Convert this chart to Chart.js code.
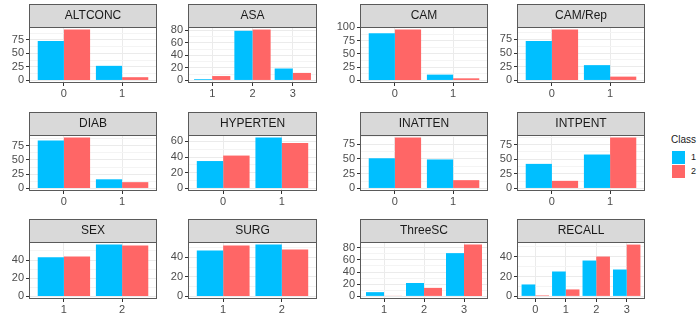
<!DOCTYPE html>
<html>
<head>
<meta charset="utf-8">
<script src="https://cdn.jsdelivr.net/npm/chart.js@4.4.0/dist/chart.umd.min.js"></script>
<style>
  body { margin:0; background:#fff; width:700px; height:323px; position:relative; overflow:hidden; font-family:"Liberation Sans", Arial, sans-serif; }
  canvas { position:absolute; }
  .lg { position:absolute; color:#1A1A1A; white-space:nowrap; }
  .sw { position:absolute; width:13px; height:13px; }
</style>
</head>
<body>
<div id="legend"></div>
<script>
// facet data
var facetNames = ['ALTCONC', 'ASA', 'CAM', 'CAM/Rep',
                  'DIAB', 'HYPERTEN', 'INATTEN', 'INTPENT',
                  'SEX', 'SURG', 'ThreeSC', 'RECALL'];
var facetCategories = [['0','1'], ['1','2','3'], ['0','1'], ['0','1'],
                       ['0','1'], ['0','1'], ['0','1'], ['0','1'],
                       ['1','2'], ['1','2'], ['1','2','3'], ['0','1','2','3']];
var class1Values = [[73,27], [2,79,19], [89,11], [72,28],
                    [84,16], [35,65], [51,49], [42,58],
                    [43,57], [47,53], [7,22,71], [12,25,36,27]];
var class2Values = [[94,6], [7,81,12], [96,4], [93,7],
                    [89,11], [42,58], [86,14], [13,87],
                    [44,56], [52,48], [1,14,85], [1,7,40,52]];
var yTickLabels = [[0,25,50,75], [0,20,40,60,80], [0,25,50,75,100], [0,25,50,75],
                   [0,25,50,75], [0,20,40,60], [0,25,50,75], [0,25,50,75],
                   [0,20,40,60], [0,20,40], [0,20,40,60,80], [0,20,40]];
var classLabels = ['1', '2'];
var classColors = ['#00BFFF', '#FF6666'];

// layout of the facet grid
var colLeft = [29, 188, 360, 517];
var colRight = [157, 317, 488, 645];
var stripTop = [4, 112, 219];
var stripH = 23;
var panelBottom = [83, 191, 299];
var YW = 32, XH = 18;

var stripPlugin = {
  id: 'strip',
  afterDraw: function(chart, args, opts) {
    var a = chart.chartArea, ctx = chart.ctx;
    ctx.save();
    ctx.fillStyle = '#D9D9D9';
    ctx.fillRect(a.left, a.top - stripH, a.right - a.left, stripH);
    ctx.strokeStyle = '#5a5a5a';
    ctx.lineWidth = 1;
    ctx.strokeRect(a.left + 0.5, a.top - stripH + 0.5, a.right - a.left - 1, stripH);
    ctx.strokeRect(a.left + 0.5, a.top + 0.5, a.right - a.left - 1, a.bottom - a.top - 1);
    ctx.fillStyle = '#1A1A1A';
    ctx.font = '12px "Liberation Sans", Arial, sans-serif';
    ctx.textAlign = 'center';
    ctx.textBaseline = 'middle';
    ctx.fillText(opts.text, (a.left + a.right) / 2, a.top - stripH / 2 + 0.5);
    ctx.restore();
  }
};

function makeChart(i) {
  var r = Math.floor(i / 4), c = i % 4;
  var cats = facetCategories[i];
  var majors = yTickLabels[i];
  var top = Math.max.apply(null, class1Values[i].concat(class2Values[i]));
  var ymin = -0.05 * top, ymax = 1.05 * top;
  var step = majors[1] - majors[0];
  var allTicks = [];
  for (var v = majors[0] - step; v <= ymax + step; v += step / 2) {
    if (v >= ymin && v <= ymax) allTicks.push(v);
  }

  var cv = document.createElement('canvas');
  var left = colLeft[c] - YW;
  cv.width = colRight[c] - left + 2;
  cv.height = panelBottom[r] - stripTop[r] + XH;
  cv.style.left = left + 'px';
  cv.style.top = stripTop[r] + 'px';
  document.body.appendChild(cv);

  var datasets = [class1Values[i], class2Values[i]].map(function(vals, k) {
    return {
      label: classLabels[k],
      data: vals.map(function(y, j) { return {x: j + 1, y: y}; }),
      backgroundColor: classColors[k],
      borderWidth: 0,
      categoryPercentage: 0.9,
      barPercentage: 1.0
    };
  });

  new Chart(cv, {
    type: 'bar',
    data: { datasets: datasets },
    plugins: [stripPlugin],
    options: {
      responsive: false,
      animation: false,
      layout: { padding: { top: stripH, left: 0, right: 2, bottom: 0 } },
      plugins: {
        legend: { display: false },
        tooltip: { enabled: false },
        strip: { text: facetNames[i] }
      },
      scales: {
        x: {
          type: 'linear',
          min: 0.4, max: cats.length + 0.6,
          offset: false,
          afterBuildTicks: function(s) {
            s.ticks = cats.map(function(_, j) { return {value: j + 1}; });
          },
          afterFit: function(s) { s.height = XH; },
          ticks: {
            callback: function(v) { return cats[Math.round(v) - 1]; },
            color: '#4D4D4D', font: { size: 11 }, padding: 1, maxRotation: 0, autoSkip: false
          },
          grid: { offset: false, color: '#EBEBEB', tickColor: '#333333', tickLength: 3 },
          border: { display: false }
        },
        y: {
          type: 'linear',
          min: ymin, max: ymax,
          afterBuildTicks: function(s) {
            s.ticks = allTicks.map(function(t) { return {value: t}; });
          },
          afterFit: function(s) { s.width = YW; },
          ticks: {
            callback: function(v) { return majors.indexOf(v) >= 0 ? String(v) : ''; },
            color: '#4D4D4D', font: { size: 11 }, padding: 2, autoSkip: false
          },
          grid: {
            color: function(ctx) { return majors.indexOf(ctx.tick.value) >= 0 ? '#EBEBEB' : '#F4F4F4'; },
            tickColor: function(ctx) { return majors.indexOf(ctx.tick.value) >= 0 ? '#333333' : 'rgba(0,0,0,0)'; },
            tickLength: 3
          },
          border: { display: false }
        }
      }
    }
  });
}

for (var i = 0; i < facetNames.length; i++) makeChart(i);

// legend
var lg = document.getElementById('legend');
var t = document.createElement('div');
t.className = 'lg';
t.style.left = '671px'; t.style.top = '134px'; t.style.fontSize = '10px';
t.textContent = 'Class';
lg.appendChild(t);
classLabels.forEach(function(lab, k) {
  var sw = document.createElement('div');
  sw.className = 'sw';
  sw.style.left = '672px'; sw.style.top = (151 + k * 14) + 'px';
  sw.style.background = classColors[k];
  lg.appendChild(sw);
  var tx = document.createElement('div');
  tx.className = 'lg';
  tx.style.left = '691px'; tx.style.top = (152 + k * 14) + 'px'; tx.style.fontSize = '9px';
  tx.textContent = lab;
  lg.appendChild(tx);
});
</script>
</body>
</html>
